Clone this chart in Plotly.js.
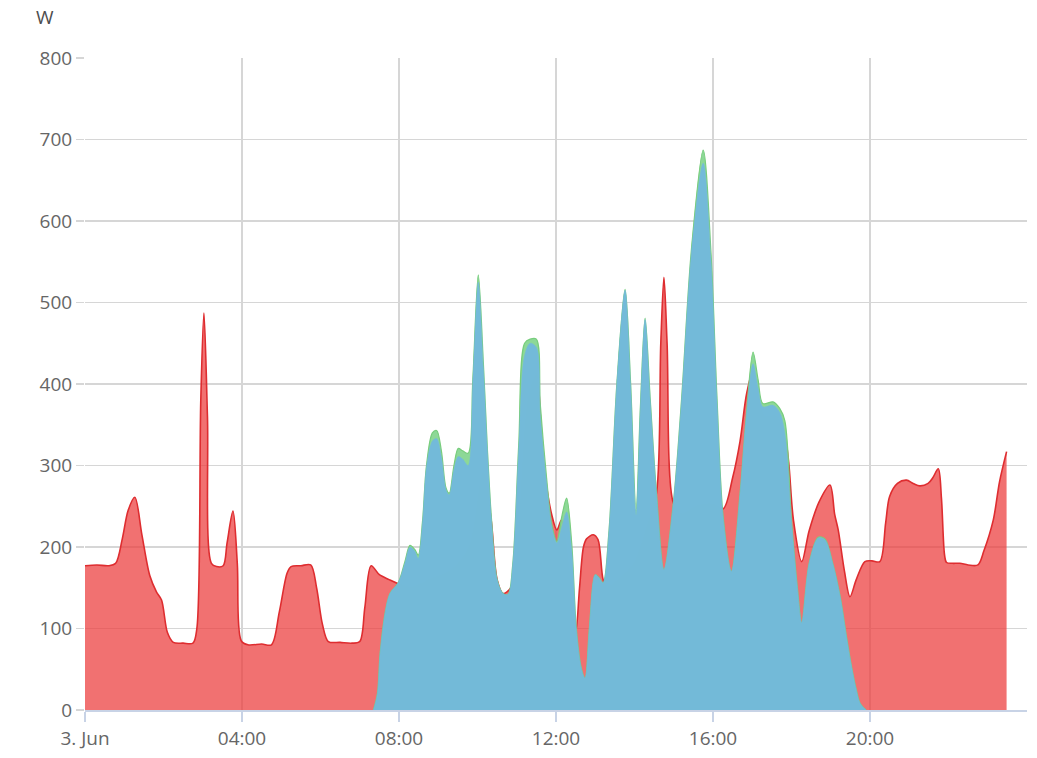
<!DOCTYPE html>
<html>
<head>
<meta charset="utf-8">
<script src="https://cdn.plot.ly/plotly-3.0.1.min.js"></script>
<style>
html,body{margin:0;padding:0;background:#fff;}
#chart{width:1037px;height:758px;}
</style>
</head>
<body>
<div id="chart"></div>
<script>
// Consumption (red) – time in hours of 3 Jun, value in W
const consumptionHours = [0.0,0.3,0.6,0.78,0.95,1.1,1.27,1.45,1.65,1.82,1.95,2.1,2.25,2.5,2.75,2.85,2.95,3.03,3.12,3.22,3.35,3.52,3.62,3.77,3.88,3.98,4.15,4.5,4.75,4.95,5.15,5.25,5.5,5.75,5.9,6.05,6.2,6.5,6.8,7.0,7.13,7.29,7.5,7.75,7.98,8.3,8.8,9.3,9.8,10.15,10.35,10.5,10.65,10.85,11.0,11.3,11.5,11.65,11.76,11.89,12.02,12.14,12.3,12.5,12.6,12.7,12.78,12.95,13.07,13.2,13.3,13.6,14.0,14.3,14.56,14.67,14.75,14.83,14.99,15.2,15.6,16.0,16.26,16.5,16.69,16.86,17.02,17.3,17.6,17.85,17.93,18.05,18.26,18.45,18.7,18.98,19.1,19.19,19.35,19.49,19.65,19.87,20.05,20.25,20.4,20.5,20.7,20.93,21.1,21.27,21.48,21.6,21.74,21.82,21.9,21.95,22.1,22.29,22.5,22.75,22.9,23.14,23.3,23.48];
const consumptionW = [177,178,177,180,210,245,261,215,165,145,135,95,83,82,82,100,380,487,360,180,176,177,205,244,180,85,80,81,80,120,168,176,177,178,150,105,84,83,82,84,126,177,166,160,155,150,160,170,200,290,232,160,143,150,180,380,410,320,274,240,221,233,180,95,150,200,210,215,209,160,150,160,180,220,266,450,531,450,254,240,250,252,247,285,330,389,415,360,360,330,303,233,182,220,255,276,240,221,170,139,160,182,183,182,230,262,278,282,278,275,278,285,296,260,190,181,180,180,178,178,195,233,280,317];

// Production (green) and self-consumed production (blue)
const solarHours = [7.35,7.45,7.52,7.65,7.77,7.98,8.15,8.28,8.4,8.49,8.6,8.7,8.85,8.96,9.08,9.2,9.28,9.4,9.51,9.62,9.76,9.88,10.02,10.15,10.25,10.36,10.5,10.65,10.78,10.9,11.05,11.2,11.34,11.5,11.6,11.76,11.89,12.02,12.15,12.27,12.4,12.52,12.65,12.74,12.85,13.0,13.1,13.2,13.35,13.55,13.76,13.9,14.04,14.15,14.27,14.4,14.56,14.75,14.99,15.2,15.45,15.75,15.95,16.1,16.26,16.47,16.69,16.85,17.02,17.15,17.27,17.53,17.7,17.83,18.0,18.15,18.26,18.45,18.68,18.85,19.05,19.24,19.4,19.53,19.65,19.75,19.9];
const productionW = [0,20,70,120,143,156,182,202,197,190,232,300,340,343,318,272,266,300,321,318,315,405,534,425,322,232,160,143,142,180,325,450,455,455,375,285,228,207,238,260,205,98,50,39,100,166,162,156,220,400,516,402,245,372,481,382,266,172,254,382,565,687,560,385,236,170,266,362,439,405,376,378,370,355,232,150,107,180,212,210,180,139,90,53,25,8,0];
const selfUsedW = [0,20,70,120,143,156,180,200,195,186,230,298,330,333,310,270,264,295,311,308,300,400,525,420,320,230,160,143,142,180,320,435,450,445,360,278,225,205,225,243,196,98,50,39,100,166,162,156,220,400,515,400,239,370,479,380,266,172,254,380,560,671,550,380,235,170,266,360,425,395,372,374,365,340,230,150,107,180,211,209,180,139,90,53,25,8,0];

const tickHours = [0,4,8,12,16,20];
const tickLabels = ['3. Jun','04:00','08:00','12:00','16:00','20:00'];
const yTicks = [0,100,200,300,400,500,600,700,800];

const traces = [
  {x: consumptionHours, y: consumptionW, type:'scatter', mode:'lines', fill:'tozeroy',
   line:{shape:'spline', smoothing:0.9, color:'rgb(222,45,48)', width:1.6},
   fillcolor:'rgba(236,60,60,0.73)', hoverinfo:'skip'},
  {x: solarHours, y: productionW, type:'scatter', mode:'lines', fill:'tozeroy',
   line:{shape:'spline', smoothing:0.9, color:'rgb(120,205,125)', width:1.2},
   fillcolor:'rgba(135,214,145,0.95)', hoverinfo:'skip'},
  {x: solarHours, y: selfUsedW, type:'scatter', mode:'lines', fill:'tozeroy',
   line:{shape:'spline', smoothing:0.9, color:'rgba(114,184,220,1)', width:0.5},
   fillcolor:'rgba(114,184,220,0.95)', hoverinfo:'skip'}
];

const font = {family:'"Open Sans", "DejaVu Sans", sans-serif', size:19, color:'#666666'};

const layout = {
  width:1037, height:758,
  margin:{l:85, r:10, t:58, b:48},
  paper_bgcolor:'#ffffff', plot_bgcolor:'#ffffff',
  showlegend:false,
  font: font,
  xaxis:{
    range:[0,24], tickvals:tickHours, ticktext:tickLabels,
    showgrid:true, gridcolor:'#d6d6d6', gridwidth:1.5,
    zeroline:false, showline:true, linecolor:'#c8d3e6', linewidth:2,
    ticks:'outside', ticklen:10, tickcolor:'#c8d3e6', tickwidth:1.5,
    tickfont:font, fixedrange:true
  },
  yaxis:{
    range:[0,800], tickvals:yTicks,
    showgrid:true, gridcolor:'#d6d6d6', gridwidth:1.5,
    zeroline:false, showline:false,
    ticks:'outside', ticklen:8, tickcolor:'#d6d6d6', tickwidth:1.5,
    tickfont:font, fixedrange:true
  },
  annotations:[
    {text:'W', xref:'paper', yref:'paper', x:-0.042, y:1.063, xanchor:'center', yanchor:'middle',
     showarrow:false, font:{family:font.family, size:19, color:'#4d4d4d'}}
  ]
};

Plotly.newPlot('chart', traces, layout, {displayModeBar:false, staticPlot:true});
</script>
</body>
</html>
